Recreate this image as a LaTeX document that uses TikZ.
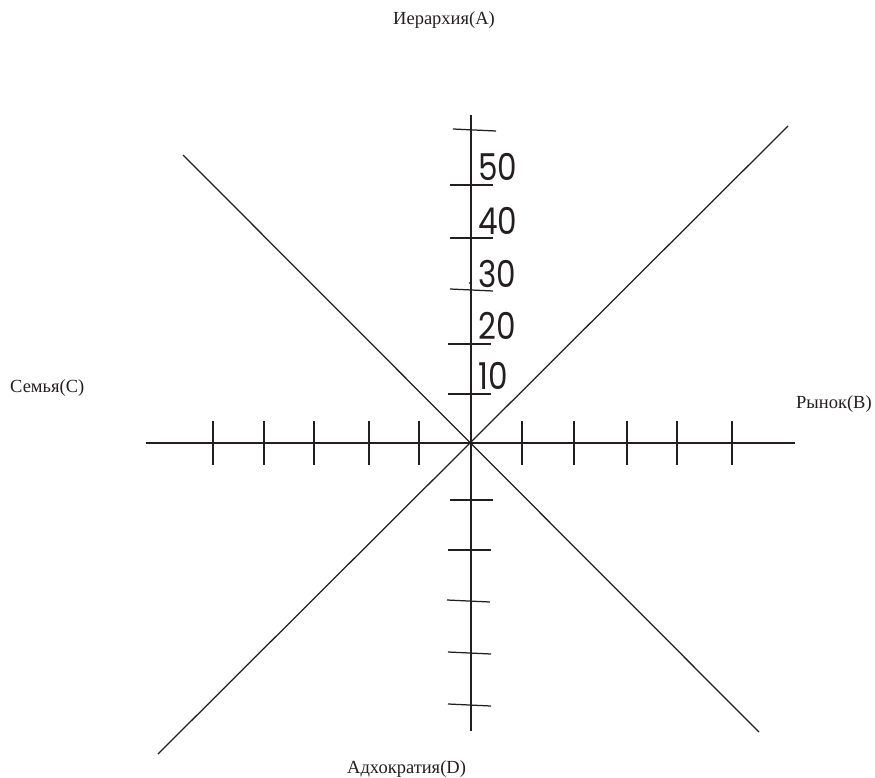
\documentclass[tikz,border=0pt]{standalone}
\usepackage{fontspec}
\setmainfont{Liberation Serif}
\newfontfamily\digfont[FakeStretch=0.84]{Poppins}
\definecolor{ink}{HTML}{231F20}
\begin{document}
\begin{tikzpicture}[x=1pt,y=-1pt,
  axis/.style={line width=1.25pt, draw=ink},
  tickmark/.style={line width=1.25pt, draw=ink},
  lab/.style={font=\fontsize{18.5}{20}\selectfont, text=ink, inner sep=0pt, anchor=base west},
  num/.style={font=\digfont\fontsize{37}{40}\selectfont, text=ink, inner sep=0pt, anchor=base west}]
\useasboundingbox[fill=white] (0,0) rectangle (875,778);
% axes
\coordinate (O) at (471,443);
\coordinate (L) at (146,443);
\coordinate (R) at (795,443);
\coordinate (T) at (471,115);
\coordinate (B) at (471,731);
\coordinate (UR) at (788,126);
\coordinate (LL) at (158,754);
\coordinate (UL) at (183,155);
\coordinate (LR) at (759,732);
\draw[axis] (L) -- (R);
\draw[axis] (T) -- (B);
\draw[axis] (LL) -- (UR);
\draw[axis] (UL) -- (LR);
% horizontal ticks
\foreach \x in {213,264,314,369,419,522,574,627,677,732}
  \draw[tickmark] (\x,421) -- (\x,465);
% vertical ticks (upper)
\draw[tickmark] (453,129) -- (496,131);
\draw[tickmark] (450,185) -- (493,185);
\draw[tickmark] (450,238) -- (493,238);
\draw[tickmark] (450,289) -- (493,291);
\draw[tickmark] (448,344) -- (491,344);
\draw[tickmark] (448,394) -- (491,394);
% vertical ticks (lower)
\draw[tickmark] (450,500) -- (493,500);
\draw[tickmark] (448,550) -- (491,550);
\draw[tickmark] (447,600) -- (490,602);
\draw[tickmark] (448,652) -- (491,654);
\draw[tickmark] (448,704) -- (491,706);
\fill[ink] (470,283) circle (1.1);
% scale labels
\node[num] (n50) at (478,181) {50};
\node[num] (n40) at (478,234) {40};
\node[num] (n30) at (478,287) {30};
\node[num] (n20) at (478,339) {20};
\node[num] (n10) at (478,389) {10};
% axis labels
\node[lab] (A) at (393,25) {Иерархия(A)};
\node[lab] (C) at (10,392) {Семья(C)};
\node[lab] (Bn) at (796,408) {Рынок(B)};
\node[lab] (D) at (347,773) {Адхократия(D)};
\end{tikzpicture}
\end{document}
